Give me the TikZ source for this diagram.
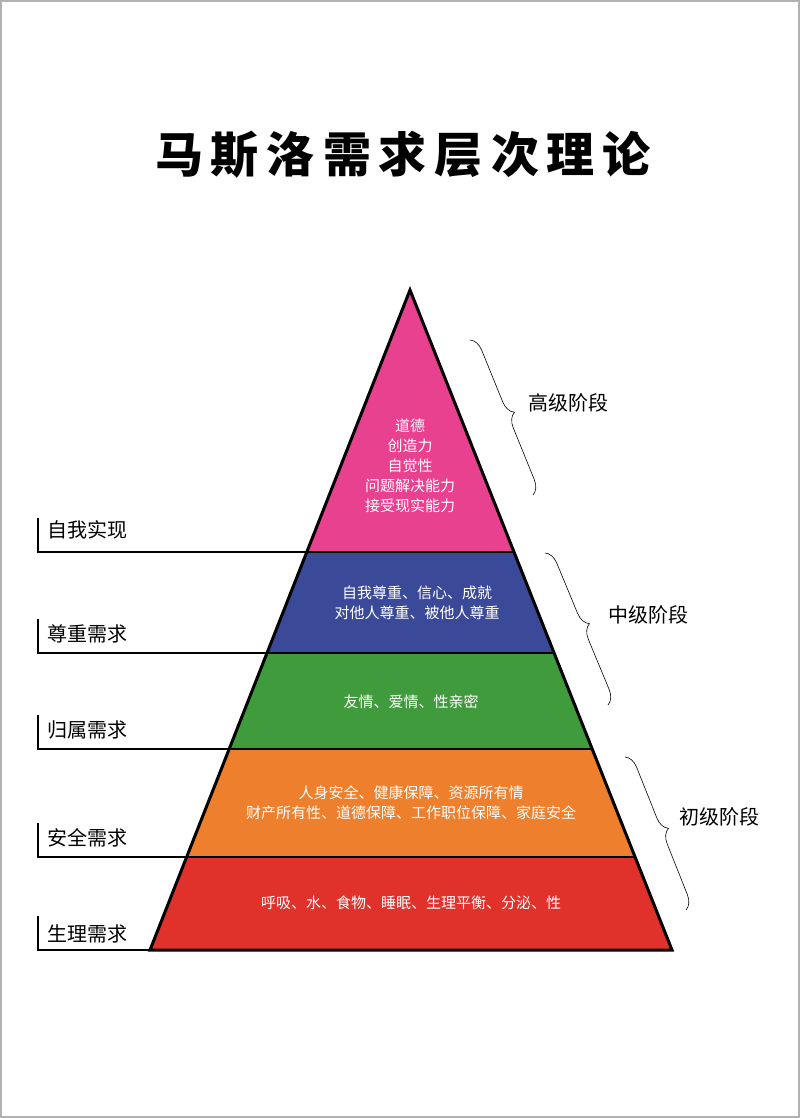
\documentclass[tikz,border=0pt]{standalone}
\usepackage{fontspec}
\setmainfont{Noto Sans CJK SC}
\usetikzlibrary{decorations.pathreplacing}
\definecolor{cpink}{HTML}{E8418F}
\definecolor{cnavy}{HTML}{3B4A98}
\definecolor{cgreen}{HTML}{3F9B3B}
\definecolor{corange}{HTML}{EE7F2D}
\definecolor{cred}{HTML}{E0312A}
\tikzset{
 inner/.style={text=white,font=\fontsize{15}{20}\selectfont,align=center},
 lbl/.style={anchor=west,font=\fontsize{20}{24}\selectfont},
 lline/.style={line width=1.5pt},
 brc/.style={decorate,decoration={brace,amplitude=14pt,aspect=0.5},line width=0.6pt},
}
\begin{document}
\begin{tikzpicture}[x=1pt,y=-1pt]
\useasboundingbox (0,0) rectangle (800,1118);
\draw[gray!60,line width=2pt] (1,1) rectangle (799,1117);
\node[font=\fontsize{48}{52}\selectfont\bfseries] (title) at (403,155) {马\,斯\,洛\,需\,求\,层\,次\,理\,论};
% layers
\fill[cpink] (410,290) -- (514,552) -- (307,552) -- cycle;
\fill[cnavy] (307,552) -- (514,552) -- (554,653) -- (267,653) -- cycle;
\fill[cgreen] (267,653) -- (554,653) -- (592,749) -- (229,749) -- cycle;
\fill[corange] (229,749) -- (592,749) -- (635,857) -- (187,857) -- cycle;
\fill[cred] (187,857) -- (635,857) -- (672,950) -- (150,950) -- cycle;
\draw[line width=2.5pt] (307,552) -- (514,552) (267,653) -- (554,653) (229,749) -- (592,749) (187,857) -- (635,857);
\draw[line width=3pt,line join=miter] (410,290) -- (672,950) -- (150,950) -- cycle;
\node[inner] (t1) at (410,466) {道德\\创造力\\自觉性\\问题解决能力\\接受现实能力};
\node[inner] (t2) at (417,603) {自我尊重、信心、成就\\对他人尊重、被他人尊重};
\node[inner] (t3) at (411,702) {友情、爱情、性亲密};
\node[inner] (t4) at (411,803) {人身安全、健康保障、资源所有情\\财产所有性、道德保障、工作职位保障、家庭安全};
\node[inner] (t5) at (411,903) {呼吸、水、食物、睡眠、生理平衡、分泌、性};
% left labels
\node[lbl] (l1) at (44,530) {自我实现};
\node[lbl] (l2) at (44,634) {尊重需求};
\node[lbl] (l3) at (44,730) {归属需求};
\node[lbl] (l4) at (44,838) {安全需求};
\node[lbl] (l5) at (44,934) {生理需求};
\coordinate (p1) at (307,552); \coordinate (p2) at (267,653); \coordinate (p3) at (229,749); \coordinate (p4) at (187,857); \coordinate (p5) at (150,950);
\foreach \i/\y in {1/552,2/653,3/749,4/857,5/950}{
 \draw[lline] (38,\y-34) -- (38,\y) -- (p\i);
}
% braces
\draw[brc] (470,340) -- (533,495);
\draw[brc] (545,553) -- (608,705);
\draw[brc] (625,757) -- (686,910);
\node[lbl] (h1) at (525,403) {高级阶段};
\node[lbl] (h2) at (605,615) {中级阶段};
\node[lbl] (h3) at (676,817) {初级阶段};
\end{tikzpicture}
\end{document}
